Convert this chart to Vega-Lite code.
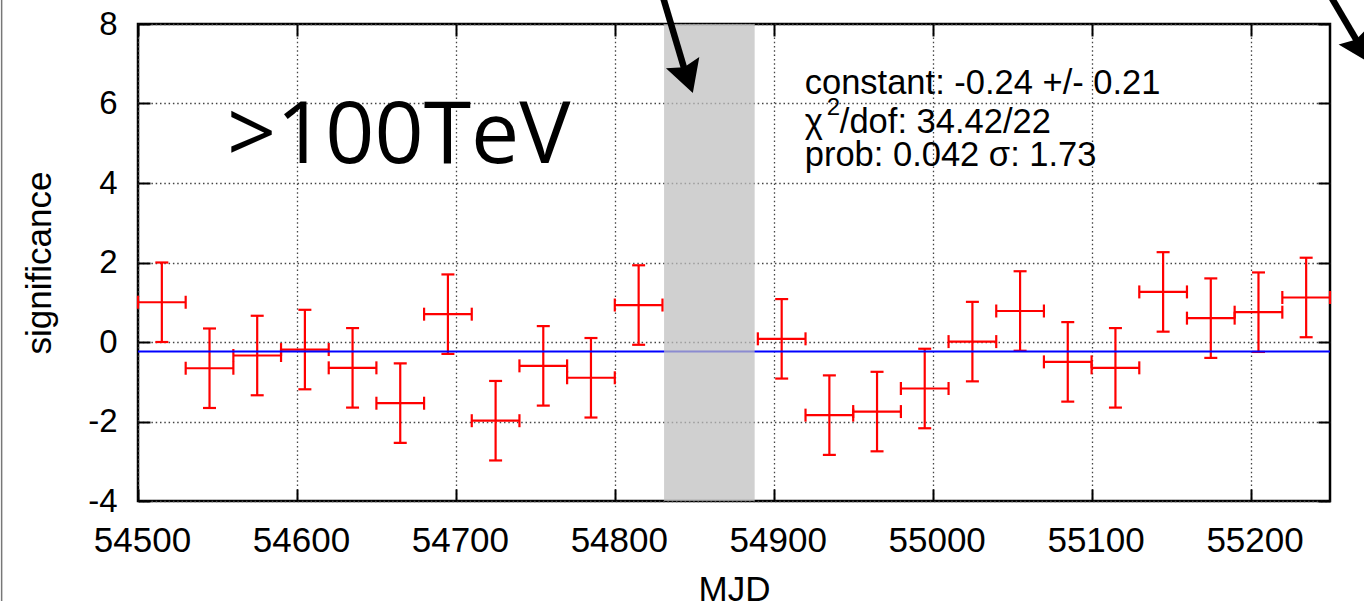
{
  "$schema": "https://vega.github.io/schema/vega-lite/v6.json",
  "width": 1192,
  "height": 477,
  "autosize": {"type": "none"},
  "padding": {"left": 138, "top": 24, "right": 34, "bottom": 100},
  "background": "white",
  "config": {
    "font": "Liberation Sans",
    "view": {"stroke": "black", "strokeWidth": 2.5},
    "axis": {
      "domain": false,
      "labelFont": "Liberation Sans",
      "labelFontSize": 33,
      "labelColor": "black",
      "labelFlush": false,
      "titleFont": "Liberation Sans",
      "titleFontSize": 35,
      "titleFontWeight": "normal",
      "titleColor": "black",
      "tickColor": "black",
      "tickWidth": 2,
      "tickSize": -12,
      "gridColor": "#444444",
      "gridDash": [1.5, 2.8],
      "gridWidth": 1.3
    }
  },
  "datasets": {
    "bins": [
      {"mjd": 54515, "mjd_lo": 54500, "mjd_hi": 54530, "sig": 1.00, "sig_lo": 0.00, "sig_hi": 2.00},
      {"mjd": 54545, "mjd_lo": 54530, "mjd_hi": 54560, "sig": -0.66, "sig_lo": -1.66, "sig_hi": 0.34},
      {"mjd": 54575, "mjd_lo": 54560, "mjd_hi": 54590, "sig": -0.34, "sig_lo": -1.34, "sig_hi": 0.66},
      {"mjd": 54605, "mjd_lo": 54590, "mjd_hi": 54620, "sig": -0.19, "sig_lo": -1.19, "sig_hi": 0.81},
      {"mjd": 54635, "mjd_lo": 54620, "mjd_hi": 54650, "sig": -0.65, "sig_lo": -1.65, "sig_hi": 0.35},
      {"mjd": 54665, "mjd_lo": 54650, "mjd_hi": 54680, "sig": -1.54, "sig_lo": -2.54, "sig_hi": -0.54},
      {"mjd": 54695, "mjd_lo": 54680, "mjd_hi": 54710, "sig": 0.70, "sig_lo": -0.30, "sig_hi": 1.70},
      {"mjd": 54725, "mjd_lo": 54710, "mjd_hi": 54740, "sig": -1.98, "sig_lo": -2.98, "sig_hi": -0.98},
      {"mjd": 54755, "mjd_lo": 54740, "mjd_hi": 54770, "sig": -0.60, "sig_lo": -1.60, "sig_hi": 0.40},
      {"mjd": 54785, "mjd_lo": 54770, "mjd_hi": 54800, "sig": -0.90, "sig_lo": -1.90, "sig_hi": 0.10},
      {"mjd": 54815, "mjd_lo": 54800, "mjd_hi": 54830, "sig": 0.93, "sig_lo": -0.07, "sig_hi": 1.93},
      {"mjd": 54905, "mjd_lo": 54890, "mjd_hi": 54920, "sig": 0.08, "sig_lo": -0.92, "sig_hi": 1.08},
      {"mjd": 54935, "mjd_lo": 54920, "mjd_hi": 54950, "sig": -1.84, "sig_lo": -2.84, "sig_hi": -0.84},
      {"mjd": 54965, "mjd_lo": 54950, "mjd_hi": 54980, "sig": -1.75, "sig_lo": -2.75, "sig_hi": -0.75},
      {"mjd": 54995, "mjd_lo": 54980, "mjd_hi": 55010, "sig": -1.17, "sig_lo": -2.17, "sig_hi": -0.17},
      {"mjd": 55025, "mjd_lo": 55010, "mjd_hi": 55040, "sig": 0.01, "sig_lo": -0.99, "sig_hi": 1.01},
      {"mjd": 55055, "mjd_lo": 55040, "mjd_hi": 55070, "sig": 0.78, "sig_lo": -0.22, "sig_hi": 1.78},
      {"mjd": 55085, "mjd_lo": 55070, "mjd_hi": 55100, "sig": -0.50, "sig_lo": -1.50, "sig_hi": 0.50},
      {"mjd": 55115, "mjd_lo": 55100, "mjd_hi": 55130, "sig": -0.65, "sig_lo": -1.65, "sig_hi": 0.35},
      {"mjd": 55145, "mjd_lo": 55130, "mjd_hi": 55160, "sig": 1.26, "sig_lo": 0.26, "sig_hi": 2.26},
      {"mjd": 55175, "mjd_lo": 55160, "mjd_hi": 55190, "sig": 0.60, "sig_lo": -0.40, "sig_hi": 1.60},
      {"mjd": 55205, "mjd_lo": 55190, "mjd_hi": 55220, "sig": 0.75, "sig_lo": -0.25, "sig_hi": 1.75},
      {"mjd": 55235, "mjd_lo": 55220, "mjd_hi": 55250, "sig": 1.12, "sig_lo": 0.12, "sig_hi": 2.12}
    ],
    "fit": [{"constant": -0.24}],
    "gap": [{"start": 54831, "end": 54888}],
    "label": [{"mjd": 54556, "sig": 4.5, "text": ">100TeV"}],
    "fitText": [
      {"mjd": 54919.5, "sig": 6.232, "text": "constant: -0.24 +/- 0.21"},
      {"mjd": 54919.5, "sig": 5.25, "text": "χ"},
      {"mjd": 54941.6, "sig": 5.25, "text": "/dof: 34.42/22"},
      {"mjd": 54919.5, "sig": 4.43, "text": "prob: 0.042 σ: 1.73"}
    ],
    "fitSup": [{"mjd": 54933.4, "sig": 5.71, "text": "2"}],
    "arrows": [
      {"id": "a", "x0": 54829.0, "y0": 8.855, "x1": 54844.7, "y1": 6.742, "tx": 54849.1, "ty": 6.264},
      {"id": "b", "x0": 55248.1, "y0": 8.855, "x1": 55268.8, "y1": 7.452, "tx": 55275.2, "ty": 7.019}
    ],
    "edge": [{"x": 54414.2, "y0": 8.9, "y1": -6.8}]
  },
  "layer": [
    {
      "data": {"name": "edge"},
      "mark": {"type": "rule", "color": "#777777", "strokeWidth": 1.5},
      "encoding": {
        "x": {"field": "x", "type": "quantitative", "scale": {"domain": [54500, 55250], "nice": false, "zero": false}, "axis": null},
        "y": {"field": "y0", "type": "quantitative", "scale": {"domain": [-4, 8], "nice": false, "zero": false}, "axis": null},
        "y2": {"field": "y1"}
      }
    },
    {
      "data": {"name": "bins"},
      "mark": {"type": "rule", "color": "#ff0000", "strokeWidth": 2.2},
      "encoding": {
        "x": {
          "field": "mjd", "type": "quantitative",
          "axis": {
            "title": "MJD",
            "values": [54500, 54600, 54700, 54800, 54900, 55000, 55100, 55200],
            "labelExpr": "toString(datum.value)",
            "labelFontSize": 35,
            "grid": true,
            "labelPadding": 34,
            "labelOffset": 4,
            "titlePadding": 14
          }
        },
        "y": {
          "field": "sig_lo", "type": "quantitative",
          "axis": {
            "title": "significance",
            "values": [-4, -2, 0, 2, 4, 6, 8],
            "labelExpr": "toString(datum.value)",
            "grid": true,
            "labelPadding": 33,
            "titlePadding": 30
          }
        },
        "y2": {"field": "sig_hi"}
      }
    },
    {
      "data": {"name": "bins"},
      "mark": {"type": "rule", "color": "#ff0000", "strokeWidth": 2.2},
      "encoding": {
        "x": {"field": "mjd_lo", "type": "quantitative", "axis": null},
        "x2": {"field": "mjd_hi"},
        "y": {"field": "sig", "type": "quantitative", "axis": null}
      }
    },
    {
      "data": {"name": "bins"},
      "mark": {"type": "tick", "orient": "horizontal", "color": "#ff0000", "size": 13, "thickness": 2.2, "opacity": 1},
      "encoding": {
        "x": {"field": "mjd", "type": "quantitative", "axis": null},
        "y": {"field": "sig_lo", "type": "quantitative", "axis": null}
      }
    },
    {
      "data": {"name": "bins"},
      "mark": {"type": "tick", "orient": "horizontal", "color": "#ff0000", "size": 13, "thickness": 2.2, "opacity": 1},
      "encoding": {
        "x": {"field": "mjd", "type": "quantitative", "axis": null},
        "y": {"field": "sig_hi", "type": "quantitative", "axis": null}
      }
    },
    {
      "data": {"name": "bins"},
      "mark": {"type": "tick", "orient": "vertical", "color": "#ff0000", "size": 13, "thickness": 2.2, "opacity": 1},
      "encoding": {
        "x": {"field": "mjd_lo", "type": "quantitative", "axis": null},
        "y": {"field": "sig", "type": "quantitative", "axis": null}
      }
    },
    {
      "data": {"name": "bins"},
      "mark": {"type": "tick", "orient": "vertical", "color": "#ff0000", "size": 13, "thickness": 2.2, "opacity": 1},
      "encoding": {
        "x": {"field": "mjd_hi", "type": "quantitative", "axis": null},
        "y": {"field": "sig", "type": "quantitative", "axis": null}
      }
    },
    {
      "data": {"name": "fit"},
      "mark": {"type": "rule", "color": "#0000ff", "strokeWidth": 2},
      "encoding": {
        "y": {
          "field": "constant", "type": "quantitative",
          "axis": {"orient": "right", "title": null, "labels": false, "grid": false, "values": [-4, -2, 0, 2, 4, 6, 8]}
        }
      }
    },
    {
      "data": {"name": "gap"},
      "mark": {"type": "rect", "color": "#bfbfbf", "opacity": 0.73},
      "encoding": {
        "x": {
          "field": "start", "type": "quantitative",
          "axis": {"orient": "top", "title": null, "labels": false, "grid": false, "values": [54500, 54600, 54700, 54800, 54900, 55000, 55100, 55200]}
        },
        "x2": {"field": "end"}
      }
    },
    {
      "data": {"name": "label"},
      "mark": {"type": "text", "font": "Open Sans", "fontSize": 86, "align": "left", "baseline": "alphabetic", "color": "black"},
      "encoding": {
        "x": {"field": "mjd", "type": "quantitative", "axis": null},
        "y": {"field": "sig", "type": "quantitative", "axis": null},
        "text": {"field": "text"}
      }
    },
    {
      "data": {"name": "fitText"},
      "mark": {"type": "text", "font": "Liberation Sans", "fontSize": 34.5, "align": "left", "baseline": "alphabetic", "color": "black"},
      "encoding": {
        "x": {"field": "mjd", "type": "quantitative", "axis": null},
        "y": {"field": "sig", "type": "quantitative", "axis": null},
        "text": {"field": "text"}
      }
    },
    {
      "data": {"name": "fitSup"},
      "mark": {"type": "text", "font": "Liberation Sans", "fontSize": 24, "align": "left", "baseline": "alphabetic", "color": "black"},
      "encoding": {
        "x": {"field": "mjd", "type": "quantitative", "axis": null},
        "y": {"field": "sig", "type": "quantitative", "axis": null},
        "text": {"field": "text"}
      }
    },
    {
      "data": {"name": "arrows"},
      "mark": {"type": "rule", "color": "black", "strokeWidth": 6.5},
      "encoding": {
        "x": {"field": "x0", "type": "quantitative", "axis": null},
        "y": {"field": "y0", "type": "quantitative", "axis": null},
        "x2": {"field": "x1"},
        "y2": {"field": "y1"}
      }
    },
    {
      "data": {"name": "arrows"},
      "transform": [{"filter": "datum.id === 'a'"}],
      "mark": {"type": "point", "shape": "M0,0 L-0.55,-1 L0,-0.85 L0.55,-1 Z", "size": 4096, "filled": true, "color": "black", "opacity": 1, "angle": 341.4},
      "encoding": {
        "x": {"field": "tx", "type": "quantitative", "axis": null},
        "y": {"field": "ty", "type": "quantitative", "axis": null}
      }
    },
    {
      "data": {"name": "arrows"},
      "transform": [{"filter": "datum.id === 'b'"}],
      "mark": {"type": "point", "shape": "M0,0 L-0.55,-1 L0,-0.85 L0.55,-1 Z", "size": 4096, "filled": true, "color": "black", "opacity": 1, "angle": 329.4},
      "encoding": {
        "x": {"field": "tx", "type": "quantitative", "axis": null},
        "y": {"field": "ty", "type": "quantitative", "axis": null}
      }
    }
  ],
  "resolve": {"axis": {"x": "independent", "y": "independent"}}
}
